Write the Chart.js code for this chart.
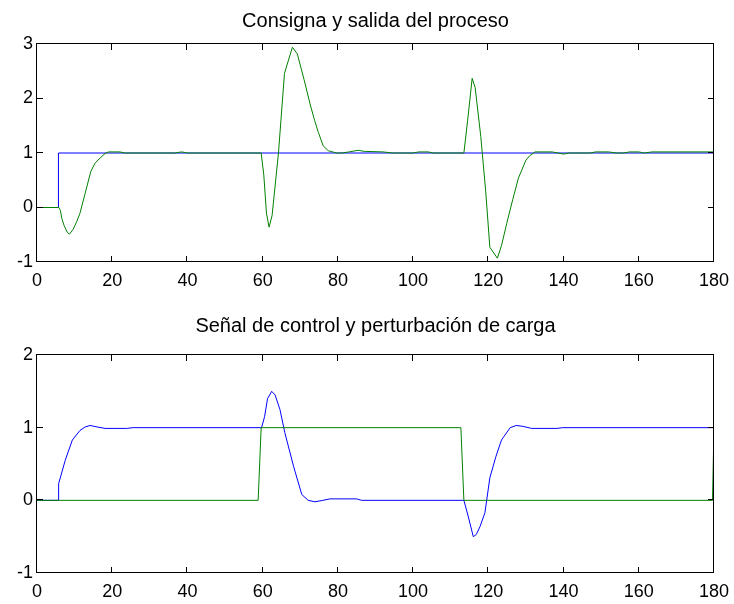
<!DOCTYPE html>
<html>
<head>
<meta charset="utf-8">
<script src="https://cdn.jsdelivr.net/npm/chart.js@4"></script>
<style>
  body { margin: 0; background: #fff; }
  .box { position: absolute; left: 0; width: 734px; height: 302px; }
  #top { top: 0; }
  #bottom { top: 302px; }
</style>
</head>
<body>
<div class="box" id="top"><canvas id="chartTop"></canvas></div>
<div class="box" id="bottom"><canvas id="chartBottom"></canvas></div>
<script>
// Consigna (setpoint) and salida (process output)
const setpointT = [0, 5.7, 5.7, 180];
const setpointY = [0, 0, 1, 1];

const outputT = [0, 5.8, 6.2, 6.6, 7.2, 8.0, 8.6, 9.6, 10.5, 11.4, 12.8, 14.3, 15.4, 16.8, 18.1, 19, 22, 23.5,
  36.5, 38.5, 40, 59.6, 60.3, 61.0, 61.7, 62.5, 64.2, 65.8, 67.9, 69.2, 71, 72.6, 73.8, 74.8, 76.1, 77.5, 79.7, 81, 83,
  85.4, 87, 92, 94.5, 100, 101.5, 104, 105.5, 113.5, 114.5, 115.7, 116.5, 118.0, 119.3, 120.4, 122.4, 123.5,
  124.9, 126.5, 128.0, 130.0, 131, 132.4, 137, 138.5, 140, 141.5, 147, 148.5, 152, 154, 156, 157.5, 160,
  161.5, 163.5, 180];
const outputY = [0, 0, -0.05, -0.2, -0.33, -0.45, -0.49, -0.4, -0.27, -0.11, 0.26, 0.66, 0.81, 0.91, 0.99, 1.02, 1.02, 1.0,
  1.0, 1.02, 1.0, 1.0, 0.6, -0.1, -0.36, -0.15, 1.0, 2.46, 2.94, 2.82, 2.35, 1.9, 1.6, 1.38, 1.13, 1.04, 1.0, 1.0, 1.02,
  1.05, 1.03, 1.02, 1.0, 1.0, 1.02, 1.02, 1.0, 1.0, 1.6, 2.37, 2.2, 1.30, 0.3, -0.73, -0.93, -0.7,
  -0.29, 0.15, 0.54, 0.87, 0.95, 1.02, 1.02, 1.0, 0.98, 1.0, 1.0, 1.02, 1.02, 1.0, 1.0, 1.02, 1.02,
  1.0, 1.02, 1.02];

// Señal de control and perturbación de carga
const controlT = [0, 5.7, 5.75, 7.5, 9.4, 11.4, 12.8, 14.1, 16, 18.1, 23.8, 25.6, 59.7, 60.5, 61.3, 62.4, 63.3,
  64.6, 65.9, 68.2, 70.4, 72.1, 73.9, 76, 77.9, 85, 86.3, 113.5, 114.7, 116.0, 116.8, 117.8, 119.1, 120.4,
  122, 123.5, 125.8, 127.4, 129, 131.5, 138.2, 139.8, 180];
const controlY = [0, 0, 0.23, 0.55, 0.83, 0.96, 1.01, 1.03, 1.01, 0.99, 0.99, 1.0, 1.0, 1.15, 1.4, 1.5, 1.45,
  1.25, 0.93, 0.47, 0.08, 0.0, -0.02, 0.0, 0.02, 0.02, 0, 0, -0.23, -0.5, -0.47, -0.36, -0.17, 0.31,
  0.6, 0.83, 1.0, 1.03, 1.02, 0.99, 0.99, 1.0, 1.0];

const loadT = [0, 58.8, 59.6, 112.7, 113.5, 179.6, 180];
const loadY = [0, 0, 1, 1, 0, 0, 1];

const xTicks = [0, 20, 40, 60, 80, 100, 120, 140, 160, 180];

const pts = (xs, ys) => xs.map((x, i) => ({ x: x, y: ys[i] }));
const FONT = "'Liberation Sans', Arial, sans-serif";

// MATLAB style box with inward tick marks
const boxTicks = {
  id: 'boxTicks',
  afterDatasetsDraw(chart) {
    const { ctx, chartArea: a, scales } = chart;
    const len = 6;
    ctx.save();
    ctx.strokeStyle = '#000';
    ctx.lineWidth = 1;
    ctx.beginPath();
    scales.x.ticks.forEach(t => {
      const px = Math.round(scales.x.getPixelForValue(t.value)) - 0.5;
      ctx.moveTo(px, a.bottom); ctx.lineTo(px, a.bottom - len);
      ctx.moveTo(px, a.top); ctx.lineTo(px, a.top + len);
    });
    scales.y.ticks.forEach(t => {
      const py = Math.round(scales.y.getPixelForValue(t.value)) - 0.5;
      ctx.moveTo(a.left, py); ctx.lineTo(a.left + len, py);
      ctx.moveTo(a.right, py); ctx.lineTo(a.right - len, py);
    });
    ctx.stroke();
    ctx.strokeRect(a.left - 0.5, a.top - 0.5, a.right - a.left, a.bottom - a.top);
    ctx.restore();
  }
};

function makeChart(id, title, titlePad, datasets, yMin, yMax, xHeight) {
  return new Chart(document.getElementById(id), {
    type: 'line',
    data: { datasets: datasets },
    options: {
      responsive: true,
      maintainAspectRatio: false,
      animation: false,
      layout: { autoPadding: false, padding: { left: 0, right: 20, top: 0, bottom: 0 } },
      plugins: {
        legend: { display: false },
        tooltip: { enabled: false },
        title: {
          display: true,
          text: title,
          fullSize: false,
          color: '#000',
          font: { family: FONT, size: 20, weight: 'normal' },
          padding: titlePad
        }
      },
      elements: { point: { radius: 0 }, line: { borderWidth: 1, tension: 0 } },
      scales: {
        x: {
          type: 'linear',
          min: 0, max: 180,
          afterBuildTicks: s => { s.ticks = xTicks.map(v => ({ value: v })); },
          ticks: { color: '#000', padding: 8, maxRotation: 0, font: { family: FONT, size: 18 } },
          grid: { display: false, drawTicks: false },
          border: { display: false },
          afterFit: s => { s.height = xHeight; s.paddingLeft = 0; s.paddingRight = 0; }
        },
        y: {
          min: yMin, max: yMax,
          ticks: { stepSize: 1, color: '#000', padding: 4, font: { family: FONT, size: 18 } },
          grid: { display: false, drawTicks: false },
          border: { display: false },
          afterFit: s => { s.width = 37; s.paddingTop = 0; s.paddingBottom = 0; }
        }
      }
    },
    plugins: [boxTicks]
  });
}

makeChart('chartTop', 'Consigna y salida del proceso', { top: 9, bottom: 11 }, [
  { label: 'Salida', data: pts(outputT, outputY), borderColor: '#008000' },
  { label: 'Consigna', data: pts(setpointT, setpointY), borderColor: '#0000ff' }
], -1, 3, 40);

makeChart('chartBottom', 'Señal de control y perturbación de carga', { top: 12.5, bottom: 16.5 }, [
  { label: 'Carga', data: pts(loadT, loadY), borderColor: '#008000' },
  { label: 'Control', data: pts(controlT, controlY), borderColor: '#0000ff' }
], -1, 2, 31);
</script>
</body>
</html>
